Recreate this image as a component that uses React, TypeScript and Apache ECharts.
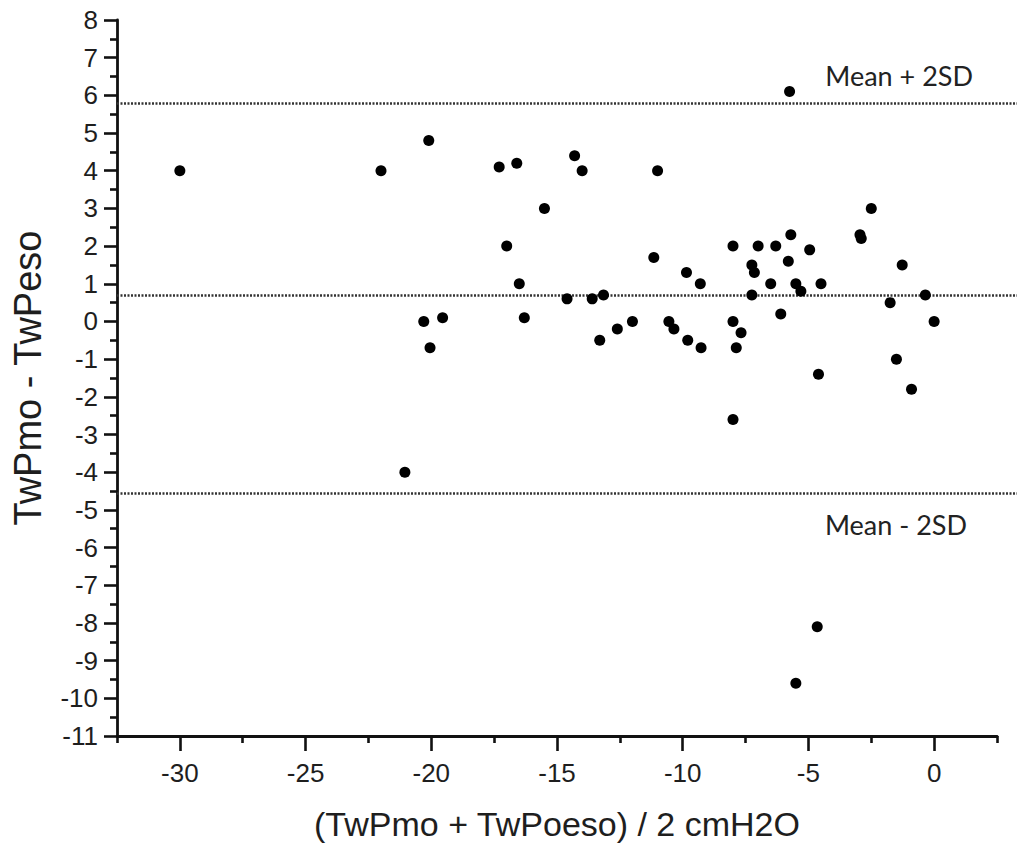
import React, { useEffect, useRef } from "react";
import * as echarts from "echarts";

// Bland–Altman data: mean of the two methods (x) and their difference (y)
const meanValues = [
  -30, -22, -20.1, -20.3, -19.55, -20.05, -21.05, -17.3, -16.6, -17.0,
  -16.5, -16.3, -15.5, -14.3, -14.0, -14.6, -13.6, -13.15, -13.3, -12.6,
  -12.0, -11.0, -11.15, -10.55, -10.35, -9.85, -9.8, -9.3, -9.27, -8.0,
  -8.0, -7.68, -7.87, -8.0, -7.25, -7.15, -7.25, -7.0, -6.5, -6.3,
  -6.1, -5.75, -5.7, -5.8, -5.5, -5.3, -4.95, -4.5, -4.6, -4.65,
  -5.5, -2.95, -2.9, -2.5, -1.27, -1.75, -1.5, -0.9, -0.35, 0.0,
];
const diffValues = [
  4.0, 4.0, 4.8, 0.0, 0.1, -0.7, -4.0, 4.1, 4.2, 2.0,
  1.0, 0.1, 3.0, 4.4, 4.0, 0.6, 0.6, 0.7, -0.5, -0.2,
  0.0, 4.0, 1.7, 0.0, -0.2, 1.3, -0.5, 1.0, -0.7, 2.0,
  0.0, -0.3, -0.7, -2.6, 1.5, 1.3, 0.7, 2.0, 1.0, 2.0,
  0.2, 6.1, 2.3, 1.6, 1.0, 0.8, 1.9, 1.0, -1.4, -8.1,
  -9.6, 2.3, 2.2, 3.0, 1.5, 0.5, -1.0, -1.8, 0.7, 0.0,
];

const meanDiff = 0.7;
const upperLimit = 5.8;
const lowerLimit = -4.55;
const upperLabel = "Mean + 2SD";
const lowerLabel = "Mean - 2SD";

const xMajorTicks = [-30, -25, -20, -15, -10, -5, 0];
const xMinorTicks = [-32.5, -27.5, -22.5, -17.5, -12.5, -7.5, -2.5, 2.5];

const xTitle = "(TwPmo + TwPoeso) / 2 cmH2O";
const yTitle = "TwPmo - TwPeso";

export default function App() {
  const ref = useRef<HTMLDivElement>(null);

  useEffect(() => {
    document.body.style.margin = "0";
    if (!ref.current) return;
    const chart = echarts.init(ref.current, undefined, { renderer: "svg" });

    const axisColor = "#111";
    const textColor = "#1e1e1e";
    const labelFont = "'Liberation Sans', Arial, sans-serif";
    const lineStyle = { color: "#333", width: 2.6, type: [2, 1.5] as any };

    const points = meanValues.map((m, i) => [m, diffValues[i]]);

    chart.setOption({
      animation: false,
      backgroundColor: "#ffffff",
      grid: [
        { left: 117, right: 20, top: 20, bottom: 125, containLabel: false },
        { left: 117, right: 0, top: 20, bottom: 125, containLabel: false },
      ],
      xAxis: [
        {
          type: "value",
          gridIndex: 0,
          min: -32.5,
          max: 2.5,
          position: "bottom",
          name: xTitle,
          nameLocation: "middle",
          nameGap: 71,
          nameTextStyle: { fontSize: 34, color: textColor, fontFamily: labelFont },
          axisLine: { show: true, onZero: false, lineStyle: { color: axisColor, width: 2.8 } },
          axisTick: { show: true, inside: false, length: 15, customValues: xMajorTicks, lineStyle: { color: axisColor, width: 2.6 } },
          axisLabel: { show: true, customValues: xMajorTicks, margin: 24, fontSize: 26, color: textColor, fontFamily: labelFont },
          splitLine: { show: false },
        },
        {
          type: "value",
          gridIndex: 0,
          min: -32.5,
          max: 2.5,
          position: "bottom",
          offset: 0,
          axisLine: { show: false, onZero: false },
          axisTick: { show: true, inside: false, length: 7, customValues: xMinorTicks, lineStyle: { color: axisColor, width: 2.6 } },
          axisLabel: { show: false },
          splitLine: { show: false },
        },
        {
          type: "value",
          gridIndex: 1,
          min: -32.5,
          max: 3.3,
          show: false,
          splitLine: { show: false },
        },
      ],
      yAxis: [
        {
          type: "value",
          gridIndex: 0,
          min: -11,
          max: 8,
          interval: 1,
          name: yTitle,
          nameLocation: "middle",
          nameGap: 70,
          nameRotate: 90,
          nameTextStyle: { fontSize: 38, color: textColor, fontFamily: labelFont },
          axisLine: { show: true, onZero: false, lineStyle: { color: axisColor, width: 2.8 } },
          axisTick: { show: true, inside: false, length: 13, lineStyle: { color: axisColor, width: 2.6 } },
          minorTick: { show: true, splitNumber: 2, length: 7, lineStyle: { color: axisColor, width: 2.6 } },
          axisLabel: { margin: 19, fontSize: 26, color: textColor, fontFamily: labelFont },
          splitLine: { show: false },
          minorSplitLine: { show: false },
        },
        {
          type: "value",
          gridIndex: 1,
          min: -11,
          max: 8,
          interval: 1,
          show: false,
          splitLine: { show: false },
        },
      ],
      series: [
        {
          type: "scatter",
          xAxisIndex: 2,
          yAxisIndex: 1,
          data: [],
          silent: true,
          markLine: {
            silent: true,
            symbol: ["none", "none"],
            lineStyle,
            label: {
              fontFamily: "Lato, 'Open Sans', sans-serif",
              fontSize: 27,
              color: "#222",
            },
            data: [
              {
                yAxis: upperLimit,
                label: { show: true, formatter: upperLabel, position: "insideEndTop", distance: [44, 14] },
              },
              { yAxis: meanDiff, label: { show: false } },
              {
                yAxis: lowerLimit,
                label: { show: true, formatter: lowerLabel, position: "insideEndBottom", distance: [50, 18] },
              },
            ],
          },
        },
        {
          type: "scatter",
          xAxisIndex: 0,
          yAxisIndex: 0,
          symbol: "circle",
          symbolSize: 11,
          itemStyle: { color: "#000", opacity: 1 },
          data: points,
          z: 5,
        },
      ],
    });

    return () => chart.dispose();
  }, []);

  return <div ref={ref} style={{ width: 1017, height: 861 }} />;
}
